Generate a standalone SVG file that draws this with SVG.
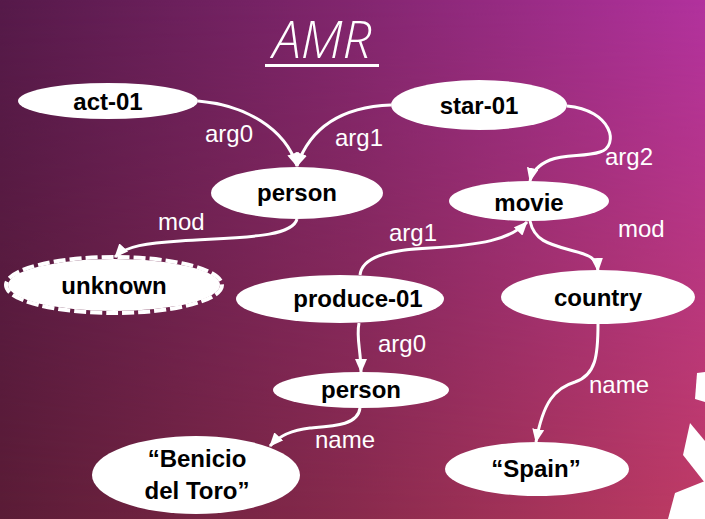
<svg xmlns="http://www.w3.org/2000/svg" width="705" height="519" viewBox="0 0 705 519">
<defs>
<linearGradient id="gTop" x1="0" y1="0" x2="1" y2="0">
<stop offset="0" stop-color="#561a4a"/><stop offset="0.5" stop-color="#82266f"/><stop offset="1" stop-color="#b2329e"/>
</linearGradient>
<linearGradient id="gBot" x1="0" y1="0" x2="1" y2="0">
<stop offset="0" stop-color="#5a1c36"/><stop offset="0.5" stop-color="#882a4c"/><stop offset="1" stop-color="#bf3b64"/>
</linearGradient>
<linearGradient id="gMask" x1="0" y1="0" x2="0" y2="1">
<stop offset="0" stop-color="#000"/><stop offset="1" stop-color="#fff"/>
</linearGradient>
<mask id="m"><rect width="705" height="519" fill="url(#gMask)"/></mask>
<marker id="ah" viewBox="0 0 14 12" refX="13" refY="6" markerWidth="14" markerHeight="12" markerUnits="userSpaceOnUse" orient="auto">
<path d="M0,0 L14,6 L0,12 z" fill="#fff"/>
</marker>
<style>
.n{fill:#fff}
.t{font-family:"Liberation Sans",Arial,sans-serif;font-weight:bold;font-size:24px;fill:#000;text-anchor:middle}
.l{font-family:"Liberation Sans",Arial,sans-serif;font-size:24px;fill:#fff}
.e{fill:none;stroke:#fff;stroke-width:3;marker-end:url(#ah)}
</style>
</defs>
<rect width="705" height="519" fill="url(#gTop)"/>
<rect width="705" height="519" fill="url(#gBot)" mask="url(#m)"/>
<g id="decor" fill="#fff">
<polygon points="697,373 705,372 705,402 695,399"/>
<polygon points="690,423 705,441 705,483 683,455"/>
<polygon points="675,493 705,481 705,519 668,519"/>
</g>
<g id="title">
<text x="322" y="58" font-family="'Open Sans','Noto Sans',sans-serif" font-style="italic" font-weight="300" font-size="51" fill="#fff" text-anchor="middle">AMR</text>
<rect x="265" y="64" width="114" height="3" fill="#fff"/>
</g>
<g id="edges">
<path class="e" d="M198,101 C245,105 285,128 297,166"/>
<path class="e" d="M391,105 C340,107 310,128 297,166"/>
<path class="e" d="M567,106 C612,110 620,146 600,152 C585,157 565,154 550,160 C538,165 532,172 530,181"/>
<path class="e" d="M297,219 C292,238 240,237 180,241 C148,243 125,246 115,257"/>
<path class="e" d="M360,275 C362,258 385,250 430,248 C480,245 510,240 527,222"/>
<path class="e" d="M530,221 C534,240 548,244 570,250 C590,255 597,258 598,271"/>
<path class="e" d="M359,323 C356,338 361,350 361,372"/>
<path class="e" d="M598,324 C598,355 596,375 575,382 C555,388 543,402 536,442"/>
<path class="e" d="M360,408 C358,425 335,426 310,428 C292,430 280,435 270,446"/>
</g>
<g id="edge-labels">
<text class="l" x="205" y="142">arg0</text>
<text class="l" x="335" y="146">arg1</text>
<text class="l" x="605" y="165">arg2</text>
<text class="l" x="158" y="230">mod</text>
<text class="l" x="389" y="241">arg1</text>
<text class="l" x="618" y="237">mod</text>
<text class="l" x="378" y="352">arg0</text>
<text class="l" x="589" y="393">name</text>
<text class="l" x="315" y="448">name</text>
</g>
<g id="act-01"><ellipse class="n" cx="108" cy="101" rx="90" ry="18"/><text class="t" x="108" y="110">act-01</text></g>
<g id="star-01"><ellipse class="n" cx="479" cy="105" rx="88" ry="25"/><text class="t" x="479" y="114">star-01</text></g>
<g id="person1"><ellipse class="n" cx="297" cy="193" rx="86" ry="26"/><text class="t" x="297" y="201">person</text></g>
<g id="movie"><ellipse class="n" cx="529" cy="201" rx="80" ry="20"/><text class="t" x="529" y="211">movie</text></g>
<g id="unknown"><ellipse class="n" cx="114" cy="285" rx="106" ry="26"/><ellipse cx="114" cy="285" rx="108" ry="28" fill="none" stroke="#fff" stroke-width="4" stroke-dasharray="12 4"/><text class="t" x="114" y="294">unknown</text></g>
<g id="produce-01"><ellipse class="n" cx="340" cy="299" rx="104" ry="24"/><text class="t" x="358" y="307">produce-01</text></g>
<g id="country"><ellipse class="n" cx="598" cy="297" rx="97" ry="27"/><text class="t" x="598" y="306">country</text></g>
<g id="person2"><ellipse class="n" cx="361" cy="390" rx="88" ry="18"/><text class="t" x="361" y="398">person</text></g>
<g id="benicio"><ellipse class="n" cx="196" cy="475" rx="104" ry="39"/><text class="t" x="197" y="467">“Benicio</text><text class="t" x="197" y="499">del Toro”</text></g>
<g id="spain"><ellipse class="n" cx="537" cy="469" rx="92" ry="27"/><text class="t" x="536" y="477">“Spain”</text></g>
</svg>
